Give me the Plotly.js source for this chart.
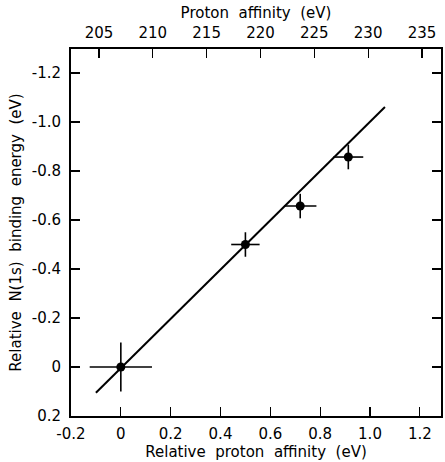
<!DOCTYPE html>
<html>
<head>
<meta charset="utf-8">
<script src="https://cdn.plot.ly/plotly-3.0.1.min.js"></script>
<style>html,body{margin:0;padding:0;background:#fff;}#chart{width:445px;height:462px;}</style>
</head>
<body>
<div id="chart"></div>
<script>
// Measured points: relative proton affinity (eV) vs relative N(1s) binding energy (eV)
const relPA      = [0, 0.50, 0.72, 0.913];
const relBE      = [0, -0.50, -0.657, -0.857];
const errPA      = [0.125, 0.057, 0.065, 0.06];
const errBE      = [0.10, 0.05, 0.05, 0.05];

// Fitted line end points
const fitX = [-0.10, 1.06];
const fitY = [0.105, -1.061];

// Axis ticks
const xTickVals = [-0.2, 0, 0.2, 0.4, 0.6, 0.8, 1.0, 1.2];
const xTickText = ['-0.2', '0', '0.2', '0.4', '0.6', '0.8', '1.0', '1.2'];
const yTickVals = [0.2, 0, -0.2, -0.4, -0.6, -0.8, -1.0, -1.2];
const yTickText = ['0.2', '0', '-0.2', '-0.4', '-0.6', '-0.8', '-1.0', '-1.2'];
const topTickVals = [205, 210, 215, 220, 225, 230, 235];
const topTickText = ['205', '210', '215', '220', '225', '230', '235'];

const FONT = 'DejaVu Sans, Liberation Sans, sans-serif';
const TICKSIZE = 15;
const TITLESIZE = 15;

const traces = [
  {
    x: fitX, y: fitY, mode: 'lines', type: 'scatter',
    line: {color: '#000', width: 2}, hoverinfo: 'skip', showlegend: false
  },
  {
    x: relPA, y: relBE, mode: 'markers', type: 'scatter',
    marker: {color: '#000', size: 9},
    error_x: {type: 'data', array: errPA, visible: true, color: '#000', thickness: 1.6, width: 0},
    error_y: {type: 'data', array: errBE, visible: true, color: '#000', thickness: 1.6, width: 0},
    showlegend: false
  },
  {
    // invisible trace to activate the top axis
    x: [topTickVals[0]], y: [0], xaxis: 'x2', yaxis: 'y', mode: 'markers',
    marker: {opacity: 0}, hoverinfo: 'skip', showlegend: false
  }
];

const layout = {
  width: 445, height: 462,
  margin: {l: 71, r: 4, t: 49, b: 46},
  paper_bgcolor: '#fff', plot_bgcolor: '#fff',
  font: {family: FONT, size: TICKSIZE, color: '#000'},
  showlegend: false,
  xaxis: {
    range: [-0.2, 1.285], autorange: false,
    tickmode: 'array', tickvals: xTickVals, ticktext: xTickText,
    ticks: 'inside', ticklen: 9, tickwidth: 1.2, tickcolor: '#000',
    ticklabelstandoff: 3,
    showline: true, linewidth: 2, linecolor: '#000', mirror: true,
    showgrid: false, zeroline: false,
    tickfont: {family: FONT, size: TICKSIZE},
    title: {text: 'Relative\u00a0\u00a0proton\u00a0\u00a0affinity\u00a0\u00a0(eV)', font: {family: FONT, size: TITLESIZE}, standoff: 1}
  },
  xaxis2: {
    overlaying: 'x', side: 'top', anchor: 'y',
    range: [202.4, 236.77], autorange: false,
    tickmode: 'array', tickvals: topTickVals, ticktext: topTickText,
    ticks: 'inside', ticklen: 9, tickwidth: 1.2, tickcolor: '#000',
    ticklabelstandoff: 7,
    showline: false, showgrid: false, zeroline: false,
    tickfont: {family: FONT, size: TICKSIZE},
    title: {text: 'Proton\u00a0\u00a0affinity\u00a0\u00a0(eV)', font: {family: FONT, size: TITLESIZE}, standoff: 1}
  },
  yaxis: {
    range: [0.2, -1.298], autorange: false,
    tickmode: 'array', tickvals: yTickVals, ticktext: yTickText,
    ticks: 'inside', ticklen: 9, tickwidth: 1.2, tickcolor: '#000',
    ticklabelstandoff: 5,
    showline: true, linewidth: 2, linecolor: '#000', mirror: 'ticks',
    showgrid: false, zeroline: false,
    tickfont: {family: FONT, size: TICKSIZE},
    title: {text: 'Relative\u00a0\u00a0N(1s)\u00a0\u00a0binding\u00a0\u00a0energy\u00a0\u00a0(eV)', font: {family: FONT, size: TITLESIZE}, standoff: 6}
  }
};

Plotly.newPlot('chart', traces, layout, {displayModeBar: false, staticPlot: true});
</script>
</body>
</html>
